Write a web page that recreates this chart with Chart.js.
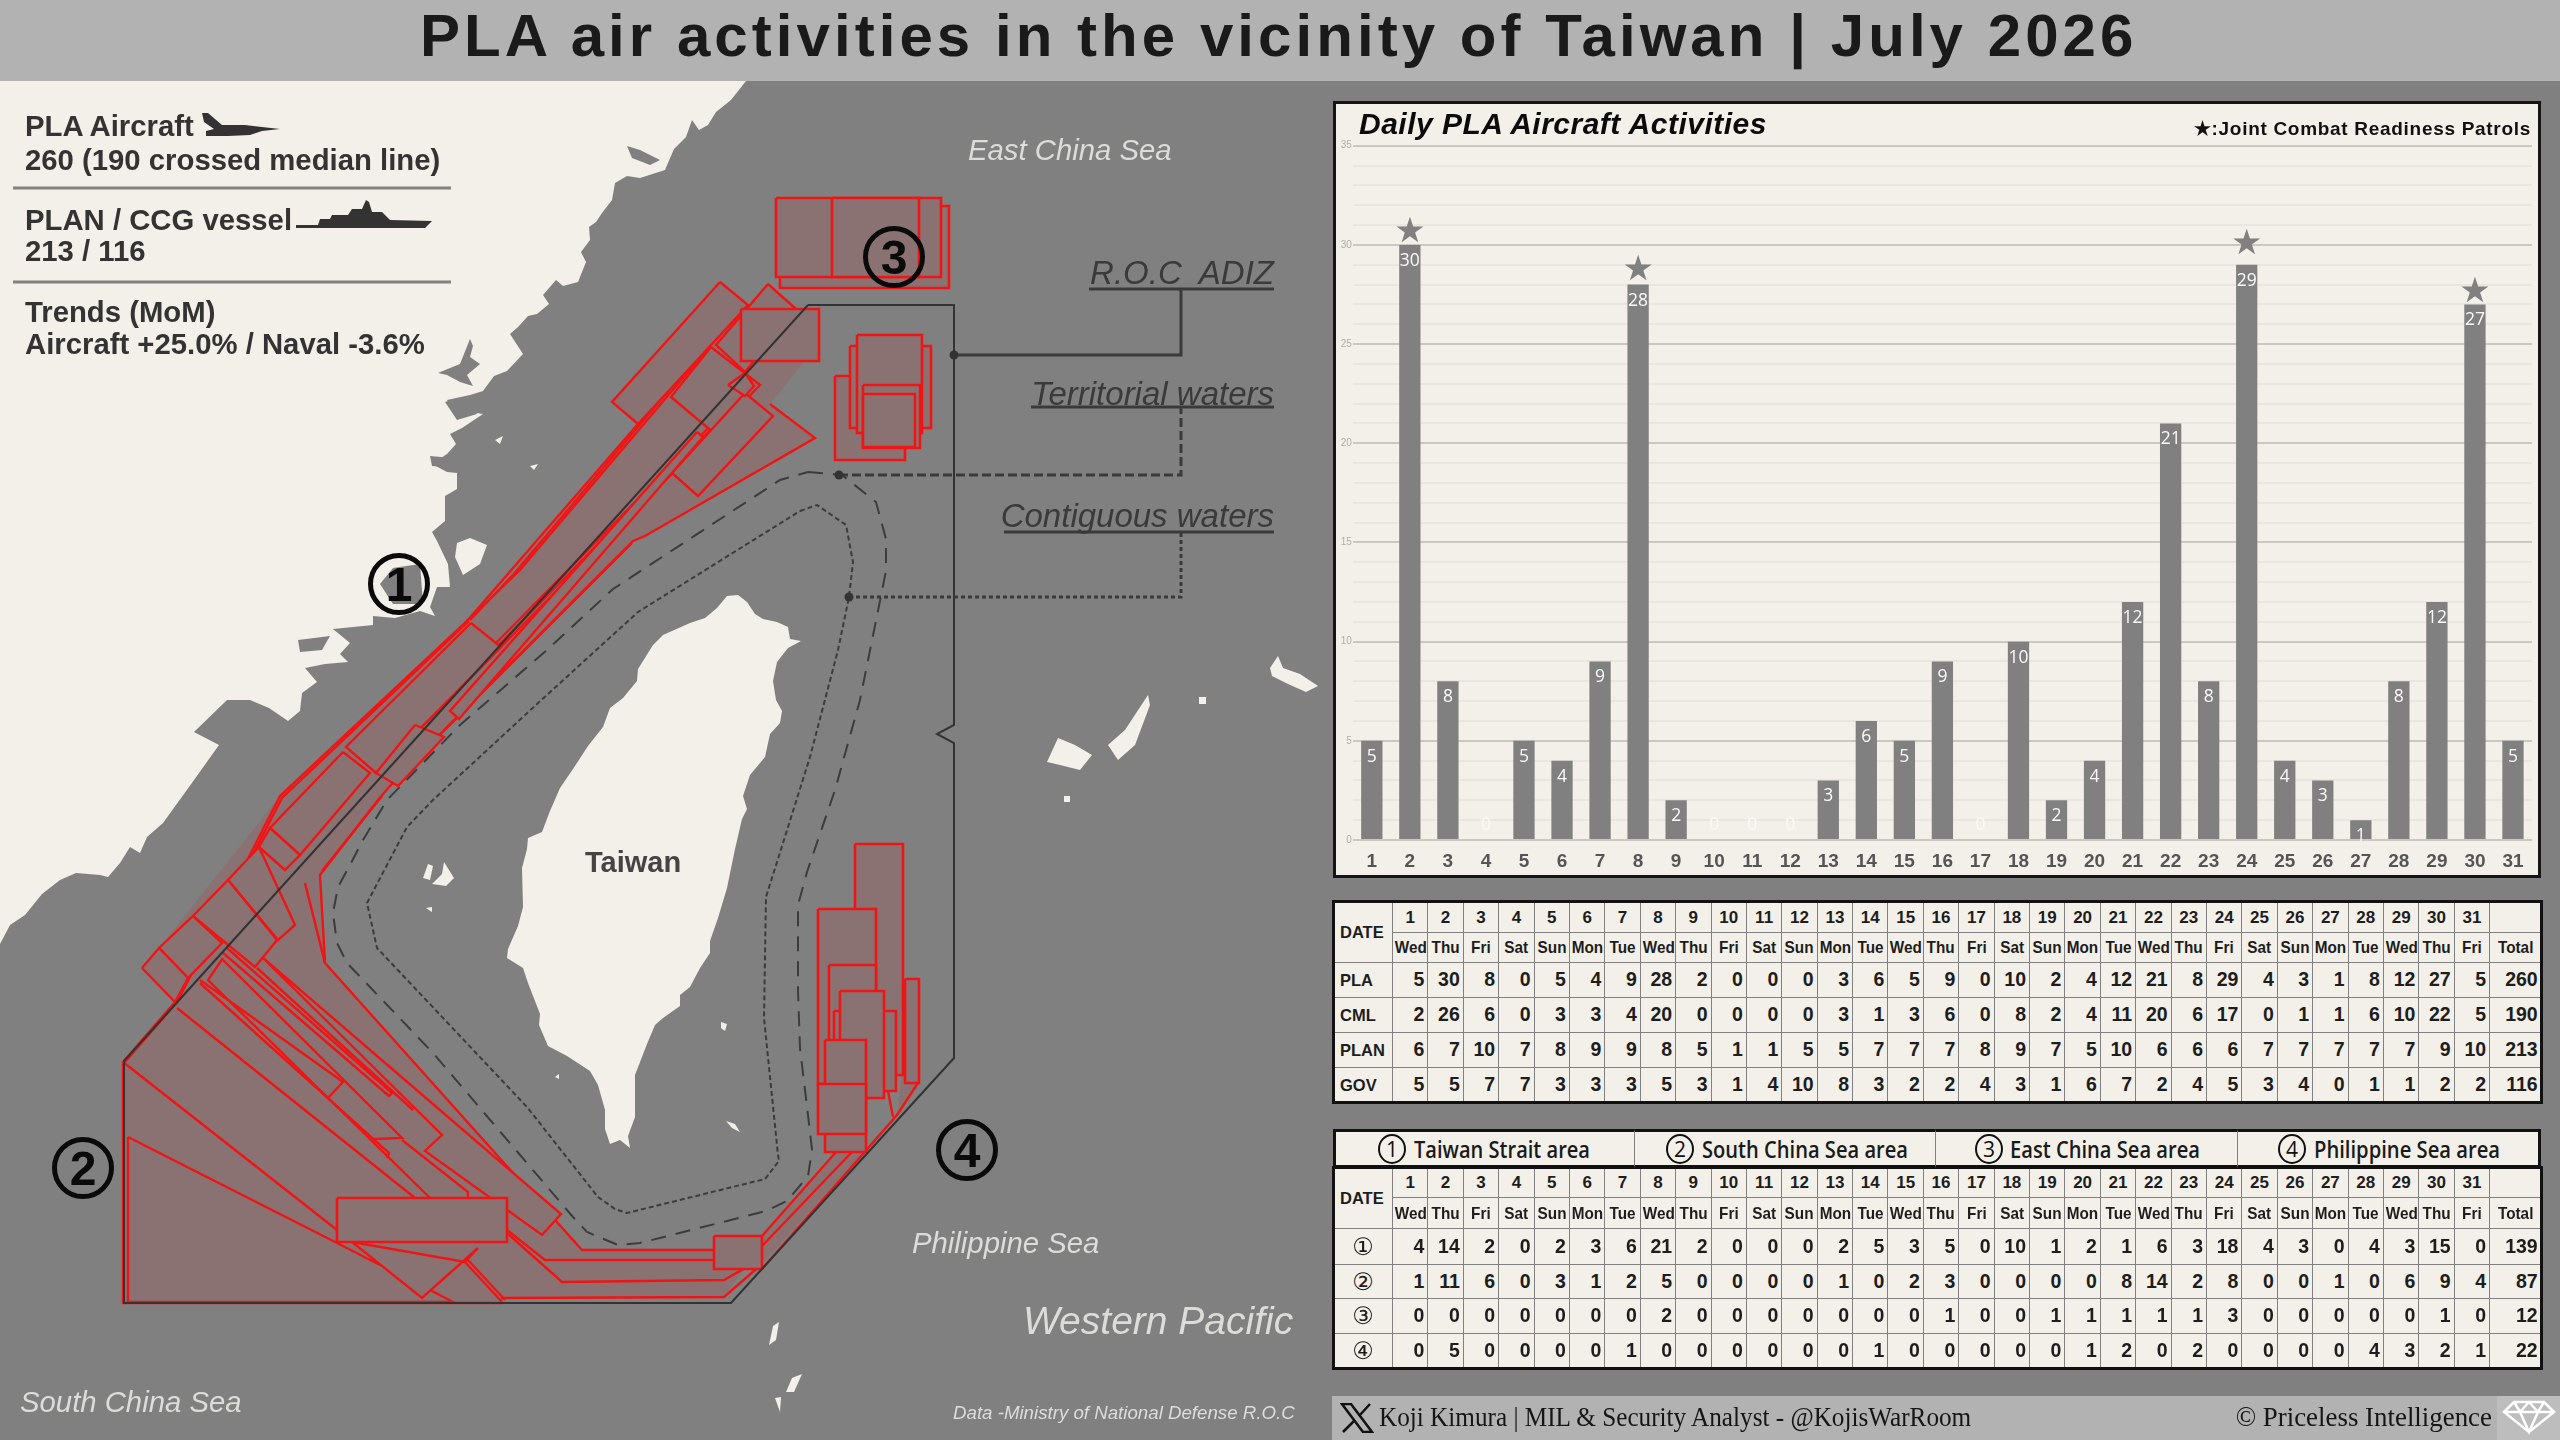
<!DOCTYPE html>
<html><head><meta charset="utf-8">
<script src="https://cdn.jsdelivr.net/npm/chart.js@4/dist/chart.umd.min.js"></script>
<style>
html,body{margin:0;padding:0;background:#808080;width:2560px;height:1440px;overflow:hidden;font-family:"Liberation Sans",Arial,sans-serif}
.abs{position:absolute}
.t{position:absolute;white-space:pre;transform:translateY(-50%);line-height:1}
table{border-collapse:collapse;table-layout:fixed;position:absolute;background:#f3f0e9;color:#1d1d1d;font-weight:bold;outline:3px solid #111;outline-offset:-2px}
td{border:1.5px solid #808080;padding:0 3px 0 0;text-align:right;font-size:19.5px;overflow:hidden;box-sizing:border-box;line-height:1}
td.c{text-align:center;padding:0;font-size:17px}
td.c span{display:inline-block;transform:scaleX(.9);white-space:nowrap}
td.d{text-align:center;padding:0;font-size:17px}
td.h{text-align:left;padding-left:6px;font-size:16.5px}
td.n{text-align:center;padding:0;font-size:24px;font-weight:normal;font-family:"DejaVu Sans"}
.cap{position:absolute;top:1129px;height:39px;background:#f3f0e9;box-sizing:border-box;border-top:3px solid #111;border-bottom:3px solid #111;border-right:1.5px solid #808080}
.capc{position:absolute;top:1134px;width:28px;height:30px;border:2.5px solid #111;border-radius:50%;display:flex;align-items:center;justify-content:center;box-sizing:border-box;font:500 21px "Open Sans";color:#111}
.capt{position:absolute;top:1149px;transform-origin:left center;font:600 23px "Open Sans";color:#1a1a1a;white-space:pre;line-height:1}
</style></head><body>
<div class="abs" style="left:0;top:0;width:2560px;height:81px;background:#b2b2b2"></div>
<canvas id="map" class="abs" width="1320" height="1359" style="left:0;top:81px;width:1320px;height:1359px"></canvas>
<div class="abs" style="left:1333px;top:101px;width:1208px;height:777px;background:#f3f0e9;box-sizing:border-box;border:3px solid #151515"></div>
<canvas id="bars" class="abs" width="1202" height="771" style="left:1336px;top:104px;width:1202px;height:771px"></canvas>
<div class="abs" style="left:1332px;top:1396px;width:1228px;height:44px;background:#b2b2b2"></div>
<svg class="abs" style="left:1340px;top:1403px" width="34" height="30" viewBox="0 0 34 30"><path d="M2 1h9l21 28h-9z" fill="none" stroke="#111" stroke-width="2.5"/><path d="M30 1L19 13M15 17L3 29" stroke="#111" stroke-width="2.5" fill="none"/></svg>
<div class="abs" style="left:2497px;top:1396px;width:63px;height:44px;background:#bdbdbd"></div>
<svg class="abs" style="left:2502px;top:1400px" width="54" height="38" viewBox="0 0 54 38"><path d="M12 2h30l10 10-25 20L2 12zM2 12h50M18 12l9 20 9-20M12 2l6 10 9-10 9 10 6-10" fill="none" stroke="#fff" stroke-width="2.5"/></svg>
<div id="txt"></div>
<script>
/* ---------- chart values ---------- */
const days=[1,2,3,4,5,6,7,8,9,10,11,12,13,14,15,16,17,18,19,20,21,22,23,24,25,26,27,28,29,30,31];
const weekdays=["Wed","Thu","Fri","Sat","Sun","Mon","Tue","Wed","Thu","Fri","Sat","Sun","Mon","Tue","Wed","Thu","Fri","Sat","Sun","Mon","Tue","Wed","Thu","Fri","Sat","Sun","Mon","Tue","Wed","Thu","Fri"];
const pla=[5,30,8,0,5,4,9,28,2,0,0,0,3,6,5,9,0,10,2,4,12,21,8,29,4,3,1,8,12,27,5];
const cml=[2,26,6,0,3,3,4,20,0,0,0,0,3,1,3,6,0,8,2,4,11,20,6,17,0,1,1,6,10,22,5];
const plan=[6,7,10,7,8,9,9,8,5,1,1,5,5,7,7,7,8,9,7,5,10,6,6,6,7,7,7,7,7,9,10];
const gov=[5,5,7,7,3,3,3,5,3,1,4,10,8,3,2,2,4,3,1,6,7,2,4,5,3,4,0,1,1,2,2];
const area1=[4,14,2,0,2,3,6,21,2,0,0,0,2,5,3,5,0,10,1,2,1,6,3,18,4,3,0,4,3,15,0];
const area2=[1,11,6,0,3,1,2,5,0,0,0,0,1,0,2,3,0,0,0,0,8,14,2,8,0,0,1,0,6,9,4];
const area3=[0,0,0,0,0,0,0,2,0,0,0,0,0,0,0,1,0,0,1,1,1,1,1,3,0,0,0,0,0,1,0];
const area4=[0,5,0,0,0,0,1,0,0,0,0,0,0,1,0,0,0,0,0,1,2,0,2,0,0,0,0,4,3,2,1];
const table1Totals=[260,190,213,116];
const table2Totals=[139,87,12,22];
const starDays=[2,8,24,30];
const areaNames=["Taiwan Strait area","South China Sea area","East China Sea area","Philippine Sea area"];

/* ---------- map geometry ---------- */
const china=[[0,81],[746,81],[731,100],[716,112],[708,125],[699,130],[692,120],[686,137],[674,149],[665,170],[640,178],[627,176],[615,183],[612,200],[602,213],[596,222],[589,227],[590,240],[581,252],[586,262],[578,282],[563,286],[556,280],[543,295],[549,304],[537,314],[528,316],[518,327],[510,334],[523,354],[507,371],[494,376],[483,391],[470,395],[447,400],[457,418],[470,412],[483,414],[462,428],[450,434],[456,444],[447,454],[432,464],[447,472],[457,473],[457,489],[445,496],[445,521],[432,532],[437,541],[448,564],[450,587],[437,587],[430,607],[435,616],[420,611],[395,618],[373,616],[373,625],[333,629],[350,643],[340,654],[348,662],[325,664],[305,668],[317,682],[302,693],[300,711],[288,721],[269,708],[250,700],[227,700],[194,732],[219,745],[189,787],[163,823],[147,837],[140,853],[130,847],[120,863],[108,877],[100,875],[76,873],[60,880],[42,894],[25,915],[10,925],[0,944]];
const taiwan=[[727,596],[738,595],[747,602],[755,614],[763,619],[777,622],[788,627],[790,639],[801,641],[788,648],[777,662],[773,681],[776,700],[782,711],[780,723],[770,734],[765,757],[750,775],[743,796],[747,809],[742,819],[735,849],[727,888],[718,918],[710,941],[710,953],[700,968],[690,987],[680,995],[680,1006],[663,1018],[655,1025],[647,1044],[635,1075],[635,1117],[628,1136],[630,1148],[620,1140],[610,1144],[605,1129],[605,1110],[598,1085],[590,1071],[567,1056],[548,1046],[539,1025],[540,1014],[528,983],[523,968],[507,958],[508,949],[518,926],[523,907],[522,868],[527,849],[528,838],[542,832],[550,811],[560,788],[573,769],[588,746],[603,727],[610,708],[623,698],[637,681],[638,669],[653,645],[663,635],[690,623],[705,618],[717,608]];
const islands=[
 [[457,543],[470,538],[487,545],[480,564],[463,575],[455,557]],
 [[1270,668],[1278,656],[1283,668],[1300,674],[1318,686],[1306,692],[1288,684],[1272,676]],
 [[1047,762],[1058,738],[1075,745],[1092,755],[1080,770],[1060,765]],
 [[1108,745],[1125,730],[1148,695],[1150,705],[1135,745],[1118,760]],
 [[1199,697],[1206,697],[1206,704],[1199,704]],
 [[1064,796],[1070,796],[1070,802],[1064,802]],
 [[721,1022],[727,1024],[725,1031],[721,1028]],
 [[726,1121],[735,1124],[740,1132],[732,1128]],
 [[555,1077],[559,1074],[559,1079]],
 [[423,878],[428,864],[433,866],[430,880]],
 [[432,884],[442,874],[444,862],[454,878],[446,886]],
 [[426,908],[432,907],[432,912]],
 [[769,1345],[773,1326],[779,1322],[776,1340]],
 [[786,1392],[792,1378],[802,1374],[794,1392]],
 [[775,1398],[781,1397],[780,1412]],
 [[495,440],[503,436],[500,444]],
 [[530,466],[538,464],[534,470]]
];
const bays=[
 [[438,373],[450,368],[460,364],[470,339],[473,346],[470,357],[480,364],[467,375],[473,386],[460,382],[447,375]],
 [[445,402],[457,398],[475,407],[477,414],[457,420]],
 [[380,584],[393,568],[420,564],[423,604],[393,604]],
 [[627,146],[640,150],[660,160],[650,165],[632,158]],
 [[430,456],[452,458],[455,468],[432,466]],
 [[298,640],[330,636],[322,650],[300,652]]
];
const redFill=[
 [[123,1062],[175,1002],[142,968],[159,948],[280,796],[467,621],[638,424],[612,402],[720,282],[748,305],[768,284],[796,309],[819,309],[819,361],[804,362],[770,404],[815,438],[642,538],[633,541],[453,721],[390,786],[378,800],[320,875],[325,963],[582,1250],[714,1250],[714,1236],[762,1236],[836,1152],[862,1152],[897,1115],[918,1083],[919,979],[905,979],[905,1040],[897,1115],[862,1155],[762,1264],[745,1268],[724,1297],[503,1298],[503,1303],[123,1303]]
];
const redRects=[
 [780,206,949,288],[776,198,941,277],[832,198,919,277],
 [835,376,905,460],[850,346,931,428],[857,335,922,433],[863,385,920,448],[863,394,915,447],
 [741,309,819,361],
 [855,844,903,1075],[905,979,919,1083],[818,909,876,1084],[829,965,876,1041],[834,1011,896,1091],[840,991,884,1098],[825,1040,866,1152],[818,1084,866,1134],
 [714,1236,762,1269],[337,1198,507,1242]
];
const redPolys=[
 [[720,282],[748,305],[638,424],[612,402]],
 [[768,284],[796,309],[745,372],[716,345]],
 [[711,347],[671,397],[714,433],[760,385]],
 [[672,473],[698,496],[773,416],[745,393]],
 [[728,385],[745,373],[754,386],[745,396]],
 [[697,432],[703,437],[459,719],[450,711]],
 [[471,623],[501,647],[376,773],[346,747]],
 [[415,725],[444,737],[398,786],[376,773]],
 [[343,752],[370,773],[300,855],[270,828]],
 [[259,847],[285,870],[300,855],[270,828]],
 [[228,880],[259,847],[295,925],[278,940]],
 [[193,916],[228,880],[277,940],[255,967]],
 [[159,948],[193,916],[222,943],[188,978]],
 [[142,968],[159,948],[188,978],[175,1002]],
 [[352,1242],[422,1298],[478,1248],[465,1262]],
 [[263,958],[561,1214],[542,1235],[425,1151],[442,1135]]
];
const redLines=[
 [[123,1062],[175,1002],[280,796],[467,621],[638,424]],
 [[125,1062],[177,1002],[282,798],[469,621]],
 [[725,420],[426,723]],[[722,418],[423,722]],[[720,416],[420,720]],
 [[710,346],[520,570],[467,621]],[[706,346],[513,575],[470,620]],
 [[770,404],[815,438],[645,536],[633,541],[453,721],[390,786],[378,800],[320,875],[325,963],[582,1250],[714,1250]],
 [[632,543],[456,719],[392,782]],
 [[382,796],[322,871]],
 [[305,883],[325,963]],
 [[227,948],[392,1093],[389,1096],[222,952]],
 [[257,968],[413,1110]],
 [[223,960],[402,1138],[374,1139]],
 [[200,983],[389,1153],[387,1158]],
 [[200,980],[343,1082],[328,1098]],
 [[177,1008],[415,1198]],
 [[223,958],[208,980],[430,1198]],
 [[402,1140],[468,1192],[468,1198]],
 [[123,1062],[337,1230]],
 [[128,1137],[337,1243],[380,1265]],
 [[128,1137],[128,1302],[453,1302],[430,1290]],
 [[123,1062],[123,1303],[503,1303]],
 [[465,1262],[502,1302]],[[468,1260],[505,1300]],
 [[507,1230],[545,1260],[714,1260]],
 [[507,1233],[562,1282],[724,1280],[745,1268],[762,1250]],
 [[501,1298],[724,1297],[762,1264]],
 [[762,1236],[836,1152]],
 [[762,1246],[852,1152]],
 [[762,1269],[862,1155],[897,1115],[918,1083]],
 [[893,1117],[888,1091]]
];
const adiz=[[808,305],[954,305],[954,725],[937,734],[954,743],[954,1058],[731,1303],[124,1303],[124,1061],[808,305]];
const leaderAdiz=[[954,355],[1181,355],[1181,289]];
const underAdiz=[[1089,289],[1274,289]];
const leaderTerr=[[839,475],[1181,475],[1181,407]];
const underTerr=[[1031,407],[1274,407]];
const leaderCont=[[849,597],[1181,597],[1181,532]];
const underCont=[[1004,532],[1274,532]];
const dashedRing=[[808,472],[842,475],[876,502],[886,539],[886,571],[860,700],[835,790],[807,872],[798,905],[798,991],[800,1048],[810,1132],[812,1150],[808,1176],[787,1201],[766,1211],[640,1243],[618,1245],[587,1232],[573,1217],[433,1053],[347,963],[337,943],[333,913],[338,887],[350,865],[363,840],[387,800],[460,725],[547,650],[613,589],[780,480],[808,472]];
const dottedRing=[[800,511],[817,505],[846,525],[853,562],[849,597],[838,650],[810,757],[766,897],[764,1018],[778,1155],[779,1161],[765,1179],[627,1213],[615,1209],[598,1197],[527,1107],[377,948],[367,903],[407,827],[433,800],[537,704],[638,612],[800,511]];
const aircraftIcon=[[202,113],[208,113],[222,125],[245,125],[262,127],[280,129],[262,131],[250,135],[228,136],[206,136],[206,131],[214,129],[204,122]];
const shipIcon=[[296,228],[296,225],[318,225],[320,219],[330,219],[332,215],[348,215],[352,209],[362,209],[366,200],[369,202],[372,212],[382,212],[390,220],[432,221],[425,228]];
const legendRule1=[[13,188],[451,188]];
const legendRule2=[[13,282],[451,282]];

/* ---------- map chart ---------- */
const LAND="#f3f0e9",SEA="#808080",REDFILL="#8b7272",RED="#f01414",DARK="#3a3a3a";
const P=a=>a.map(p=>({x:p[0],y:p[1]}));
const closed=a=>a.concat([a[0]]);
const rect=r=>[[r[0],r[1]],[r[2],r[1]],[r[2],r[3]],[r[0],r[3]]];
const mapSets=[];
const add=(pts,o)=>mapSets.push(Object.assign({data:P(pts),showLine:true,pointRadius:0,pointHoverRadius:0,tension:0,fill:false,borderWidth:0,borderColor:"rgba(0,0,0,0)",borderJoinStyle:"miter",clip:false},o));
const poly=(pts,c)=>add(closed(pts),{fill:"shape",backgroundColor:c});
const line=(pts,c,w,d)=>add(pts,{borderColor:c,borderWidth:w,borderDash:d||[]});
poly(china,LAND);bays.forEach(b=>poly(b,SEA));poly(taiwan,LAND);islands.forEach(b=>poly(b,LAND));
line(dashedRing,"#3c3c3c",2,[15,10]);
line(dottedRing,"#3c3c3c",2,[5,3]);
redFill.forEach(p=>poly(p,REDFILL));
redRects.forEach(r=>poly(rect(r),REDFILL));
redLines.forEach(l=>line(l,RED,2.4));
redPolys.forEach(p=>{poly(p,REDFILL);line(closed(p),RED,2.4)});
redRects.forEach(r=>{poly(rect(r),REDFILL);line(closed(rect(r)),RED,2.6)});
line(adiz,"#333",2);
line(leaderAdiz,"#3a3a3a",3);line(underAdiz,"#3a3a3a",3);
line(leaderTerr,"#3a3a3a",3,[9,4]);line(underTerr,"#3a3a3a",3);
line(leaderCont,"#3a3a3a",3,[4,3]);line(underCont,"#3a3a3a",3);
add([[954,355],[839,475],[849,597]],{showLine:false,pointRadius:4.5,backgroundColor:"#333",borderWidth:0});
poly(aircraftIcon,"#333");poly(shipIcon,"#333");
line(legendRule1,"#808080",3);line(legendRule2,"#808080",3);
mapSets.forEach((d,i)=>d.order=mapSets.length-i);
new Chart(document.getElementById("map"),{type:"scatter",data:{datasets:mapSets},options:{
 responsive:false,animation:false,events:[],devicePixelRatio:1,
 layout:{padding:0,autoPadding:false},
 plugins:{legend:{display:false},tooltip:{enabled:false},filler:{propagate:false,drawTime:"beforeDatasetDraw"}},
 scales:{x:{type:"linear",min:0,max:1320,display:false},y:{type:"linear",min:81,max:1440,reverse:true,display:false}}
}});

/* ---------- bar chart ---------- */
const starGaps=[11.5,13.5,19.5,11.5];
const barLabels={id:"barLabels",afterDatasetsDraw(c){
 const g=c.ctx,x=c.scales.x,y=c.scales.y;g.save();g.textAlign="center";g.textBaseline="middle";
 pla.forEach((v,i)=>{
  g.font='17.5px "Open Sans"';g.fillStyle=v===0?"#fbfaf6":"#fbfbf8";
  const py=v===0?y.getPixelForValue(0)-15:y.getPixelForValue(v)+16;
  g.fillText(String(v),x.getPixelForValue(i),py);
 });
 g.fillStyle="#808080";g.font='35px "DejaVu Sans"';
 starDays.forEach((d,k)=>{const i=days.indexOf(d);g.fillText("★",x.getPixelForValue(i),y.getPixelForValue(pla[i])-starGaps[k]);});
 g.restore();
}};
new Chart(document.getElementById("bars"),{type:"bar",
 data:{labels:days,datasets:[{data:pla,backgroundColor:"#808080",borderWidth:0,barPercentage:.56,categoryPercentage:1}]},
 options:{responsive:false,animation:false,events:[],devicePixelRatio:1,
  layout:{padding:{top:41.7,right:6,left:0,bottom:0},autoPadding:false},
  plugins:{legend:{display:false},tooltip:{enabled:false}},
  scales:{
   x:{grid:{display:false},border:{display:false},ticks:{color:"#555",font:{size:19,weight:"bold",family:"Liberation Sans"},padding:2,maxRotation:0,autoSkip:false},afterFit(s){s.height=35}},
   y:{min:0,max:35,border:{display:false},afterFit(s){s.width=16.8},afterBuildTicks(s){s.ticks=Array.from({length:36},(_,v)=>({value:v}))},
      grid:{drawTicks:false,lineWidth:2,color:t=>t.tick.value%5===0?"#cbc8c1":"#e9e6df"},
      ticks:{autoSkip:false,padding:1,color:"#b0aea8",font:{size:10,family:"Liberation Sans"},callback:v=>v%5===0?v:""}}
  }},plugins:[barLabels]});

/* ---------- text ---------- */
const box=document.getElementById("txt");
function T(s,x,y,css,right){const e=document.createElement("span");e.className="t";e.textContent=s;
 e.style.cssText=(right?`right:${2560-x}px;`:`left:${x}px;`)+`top:${y}px;`+css;box.appendChild(e);return e;}
T("PLA air activities in the vicinity of Taiwan | July 2026",420,35,'font:bold 60px "Liberation Sans";letter-spacing:4.05px;color:#1a1a1a');
const L='font:bold 29.3px "Liberation Sans";color:#333;';
T("PLA Aircraft",25,126,L);T("260 (190 crossed median line)",25,160,L);
T("PLAN / CCG vessel",25,220,L);T("213 / 116",25,251,L);
T("Trends (MoM)",25,312,L);T("Aircraft +25.0% / Naval -3.6%",25,344,L);
const sea='font:italic 29.3px "Liberation Sans";color:#dcdcd8;';
T("East China Sea",968,150,sea);T("Philippine Sea",912,1243,sea);T("South China Sea",20,1402,sea);
T("Western Pacific",1023,1321,'font:italic 39px "Liberation Sans";color:#dcdcd8');
T("Data -Ministry of National Defense R.O.C",953,1413,'font:italic 18.7px "Liberation Sans";color:#dcdcd8');
const lead='font:italic 33px "Liberation Sans";color:#3a3a3a;';
T("R.O.C  ADIZ",1274,273,lead,1);T("Territorial waters",1274,394,lead,1);T("Contiguous waters",1274,516,lead,1);
T("Taiwan",585,862,'font:bold 29px "Liberation Sans";color:#444');
T("Daily PLA Aircraft Activities",1359,124,'font:italic bold 30px "Liberation Sans";color:#0b0b0b;letter-spacing:.5px');
T("★:Joint Combat Readiness Patrols",2531,128,'font:bold 19px "Liberation Sans";color:#111;letter-spacing:.7px',1);
const foot='font:28px "Liberation Serif";color:#151515;';
T("Koji Kimura | MIL & Security Analyst - @KojisWarRoom",1379,1417,foot+'transform:translateY(-50%) scaleX(.9);transform-origin:left center');
T("© Priceless Intelligence",2492,1417,foot+'transform:translateY(-50%) scaleX(.96);transform-origin:right center',1);
[["1",399,584],["2",83,1168],["3",894,257],["4",967,1150]].forEach(a=>{
 const e=document.createElement("div");e.className="abs";
 e.style.cssText=`left:${a[1]-31}px;top:${a[2]-31}px;width:62px;height:62px;box-sizing:border-box;border:5px solid #0a0a0a;border-radius:50%;display:flex;align-items:center;justify-content:center;font:bold 48px "Liberation Sans";color:#0a0a0a`;
 e.textContent=a[0];box.appendChild(e);});

/* ---------- tables ---------- */
function table(top,heights,rows,totals,names,circ){
 const t=document.createElement("table");t.style.left="1333px";t.style.top=top+"px";t.style.width="1208px";
 const cg=document.createElement("colgroup");
 [59].concat(days.map(()=>35.4)).concat([51.6]).forEach(w=>{const c=document.createElement("col");c.style.width=w+"px";cg.appendChild(c)});t.appendChild(cg);
 let h=heights.slice();
 const tr=(ht)=>{const r=document.createElement("tr");r.style.height=ht+"px";t.appendChild(r);return r};
 const td=(r,s,cl,span,rs)=>{const d=document.createElement("td");d.textContent=s;if(cl)d.className=cl;if(span)d.colSpan=span;if(rs)d.rowSpan=rs;r.appendChild(d);return d};
 const cw=(r,s)=>{const d=td(r,"","c");const sp=document.createElement("span");sp.textContent=s;d.appendChild(sp)};
 let r=tr(h.shift());td(r,"DATE","h",1,2);days.forEach(d=>td(r,d,"d"));td(r,"","d");
 r=tr(h.shift());weekdays.forEach(d=>cw(r,d));cw(r,"Total");
 rows.forEach((row,i)=>{r=tr(h.shift());td(r,names[i],circ?"n":"h");row.forEach(v=>td(r,v));td(r,totals[i]);});
 box.appendChild(t);
}
table(901,[31,30,35,35,35,35],[pla,cml,plan,gov],table1Totals,["PLA","CML","PLAN","GOV"],false);
table(1167,[30,31,36,34,35,35],[area1,area2,area3,area4],table2Totals,["①","②","③","④"],true);
const capX=[1333,1635,1936,2238,2541],capCircle=[1378,1666,1975,2278],capText=[1414,1702,2010,2314],capWidth=[176,206,190,186];
areaNames.forEach((n,i)=>{const e=document.createElement("div");e.className="cap";
 e.style.left=capX[i]+"px";e.style.width=(capX[i+1]-capX[i])+"px";
 if(i===0)e.style.borderLeft="3px solid #111";if(i===3)e.style.borderRight="3px solid #111";box.appendChild(e);
 const c=document.createElement("div");c.className="capc";c.style.left=capCircle[i]+"px";c.textContent=i+1;box.appendChild(c);
 const s=document.createElement("div");s.className="capt";s.style.left=capText[i]+"px";s.textContent=n;box.appendChild(s);
 s.style.transform=`translateY(-50%) scaleX(${capWidth[i]/s.getBoundingClientRect().width})`;});
</script>
</body></html>
